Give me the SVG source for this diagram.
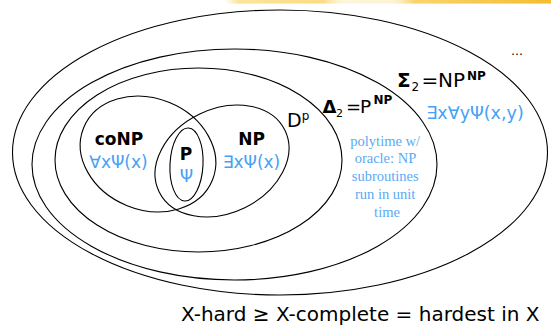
<svg xmlns="http://www.w3.org/2000/svg" width="551" height="328" viewBox="0 0 551 328">
  <defs>
    <linearGradient id="streak" x1="225" y1="0" x2="551" y2="0" gradientUnits="userSpaceOnUse">
      <stop offset="0" stop-color="#fbe08a" stop-opacity="0"/>
      <stop offset="0.04" stop-color="#fbe08a" stop-opacity="0.85"/>
      <stop offset="0.3" stop-color="#fad777" stop-opacity="0.9"/>
      <stop offset="0.36" stop-color="#fde9b0" stop-opacity="0.45"/>
      <stop offset="0.52" stop-color="#fbe3a0" stop-opacity="0.45"/>
      <stop offset="0.58" stop-color="#f8d266" stop-opacity="0.95"/>
      <stop offset="1" stop-color="#f3bd2e" stop-opacity="1"/>
    </linearGradient>
    <filter id="soft" x="-5%" y="-200%" width="110%" height="500%">
      <feGaussianBlur stdDeviation="0.6"/>
    </filter>
  </defs>
  <style>
    .set{fill:none;stroke:#000;stroke-width:1.1}
    .lbl{font-family:"DejaVu Sans",sans-serif;fill:#000}
    .b{font-weight:bold}
    .blue{font-family:"DejaVu Sans",sans-serif;fill:#45a1f5}
    .serif{font-family:"Liberation Serif",serif;font-size:14.5px;fill:#5aaaf5;text-anchor:middle}
    .mid{text-anchor:middle}
  </style>

  <rect width="551" height="328" fill="#fff"/>
  <!-- highlighter streak along the top edge -->
  <rect x="225" y="0" width="326" height="3.6" fill="url(#streak)" filter="url(#soft)"/>

  <!-- outer region: Sigma_2 -->
  <g id="sigma2">
    <ellipse class="set" cx="280" cy="152.5" rx="267.5" ry="142.5"/>
    <text class="lbl" font-size="20" y="87">
      <tspan class="b" x="397">Σ</tspan><tspan x="411.5" y="91" font-size="12">2</tspan><tspan x="421.5" y="87" font-size="20">=</tspan><tspan x="438" y="87" font-size="20">NP</tspan><tspan class="b" x="467" y="79.5" font-size="12">NP</tspan>
    </text>
    <text class="blue" font-size="17.5" x="475" y="119" text-anchor="middle">∃x∀yΨ(x,y)</text>
  </g>

  <!-- Delta_2 = P^NP -->
  <g id="delta2">
    <ellipse class="set" cx="234.5" cy="164.5" rx="202.5" ry="115.5"/>
    <text class="lbl" font-size="18" y="113">
      <tspan class="b" x="322.5">Δ</tspan><tspan x="336" y="116.5" font-size="11">2</tspan><tspan x="346" y="113" font-size="18">=</tspan><tspan x="360" y="113" font-size="18.5">P</tspan><tspan class="b" x="373.5" y="103.5" font-size="12">NP</tspan>
    </text>
    <text class="serif">
      <tspan x="387" y="145.5">polytime w/</tspan>
      <tspan x="387" y="163.3">oracle: NP</tspan>
      <tspan x="387" y="181.2">subroutines</tspan>
      <tspan x="387" y="199">run in unit</tspan>
      <tspan x="387" y="216.8">time</tspan>
    </text>
  </g>

  <!-- D^p -->
  <g id="dp">
    <ellipse class="set" cx="198.5" cy="160" rx="143.5" ry="92"/>
    <text class="lbl" font-size="19" x="287" y="127">D<tspan font-size="12" y="119.5">p</tspan></text>
  </g>

  <!-- coNP -->
  <g id="conp">
    <ellipse class="set" cx="148" cy="154" rx="69.5" ry="55.7" transform="rotate(22 148 154)"/>
    <text class="lbl b mid" font-size="17" x="119" y="145">coNP</text>
    <text class="blue mid" font-size="17" x="118.5" y="168">∀xΨ(x)</text>
  </g>

  <!-- NP -->
  <g id="np">
    <ellipse class="set" cx="222" cy="161" rx="70" ry="52" transform="rotate(-26 222 161)"/>
    <text class="lbl b mid" font-size="17" x="251.5" y="145">NP</text>
    <text class="blue mid" font-size="17" x="251.5" y="168">∃xΨ(x)</text>
  </g>

  <!-- P -->
  <g id="p">
    <ellipse class="set" cx="186.5" cy="164.5" rx="16.5" ry="36.5" transform="rotate(3 186.5 164.5)"/>
    <text class="lbl b mid" font-size="17" x="186" y="160">P</text>
    <text class="blue mid" font-size="17" x="186.5" y="182">Ψ</text>
  </g>

  <!-- higher levels -->
  <text class="lbl" font-size="12" x="511" y="55" fill="#555">…</text>

  <!-- caption -->
  <text class="lbl" font-size="20" x="181" y="321">X-hard ≥ X-complete = hardest in X</text>
</svg>
